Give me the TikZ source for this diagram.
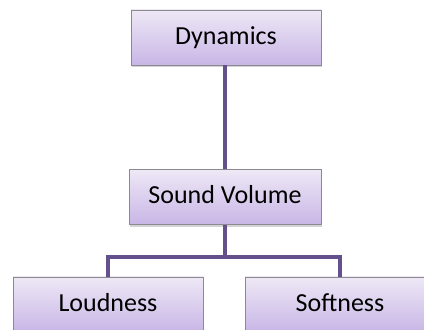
\documentclass[tikz,border=0pt]{standalone}
\usepackage{fontspec}
\setmainfont{Carlito}
\usepackage{tikz}
\usetikzlibrary{positioning}
\usetikzlibrary{shadows}

\definecolor{boxtop}{HTML}{EEE8F6}
\definecolor{boxbottom}{HTML}{C8B6E6}
\definecolor{boxline}{HTML}{8C8A90}
\definecolor{linkcol}{HTML}{64508A}

\begin{document}
\begin{tikzpicture}[x=1pt,y=1pt,
        box/.style={draw=boxline, line width=0.8pt, top color=boxtop, bottom color=boxbottom,
            minimum width=190pt, minimum height=55pt, inner sep=0pt,
            text height=16.6pt, text depth=3pt,
            font=\fontsize{26}{31}\selectfont,
            drop shadow={shadow xshift=1pt, shadow yshift=-2.5pt, opacity=0.35}},
        link/.style={draw=linkcol, line width=4pt}]
        \useasboundingbox (0,0) rectangle (424,330);

        % Boxes
        \node[box] (dyn) at (226,292.5) {Dynamics};
        \node[box, minimum width=192pt] (vol) at (225,133) {Sound Volume};
        \node[box] (loud) at (108,25.5) {Loudness};
        \node[box] (soft) at (340,25.5) {Softness};

        % Links
        \coordinate (split) at (225,73);
        \draw[link] (dyn.south -| vol.north) -- (vol.north);
        \draw[link] (vol.south) -- (split);
        \draw[link] (split -| loud.north) -- (split -| soft.north);
        \foreach \p in {loud,soft}{
            \draw[link] ([yshift=2pt]split -| \p.north) -- (\p.north);
        }
    \end{tikzpicture}
\end{document}
